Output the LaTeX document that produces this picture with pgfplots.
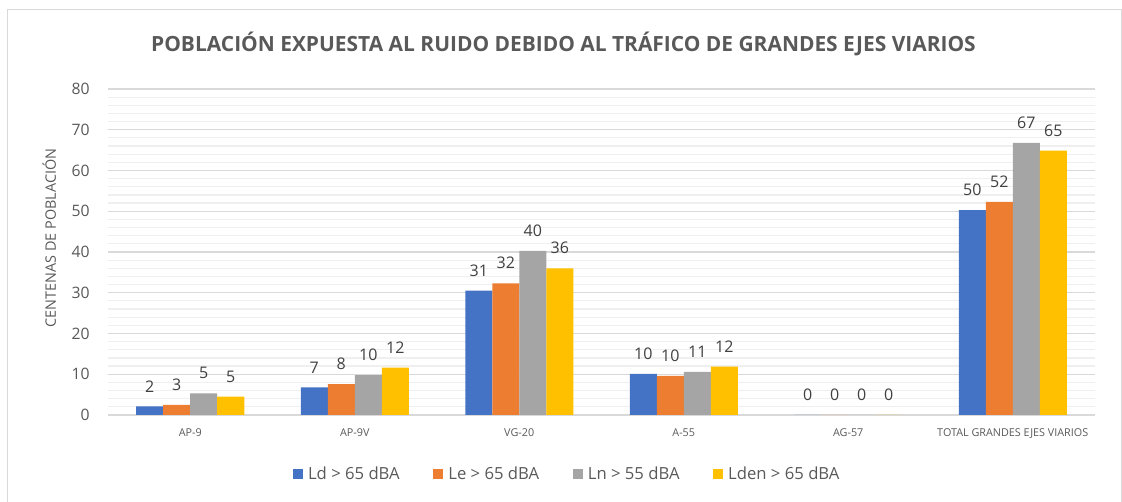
\documentclass[border=0pt]{standalone}
\usepackage{fontspec}
\setmainfont{Open Sans}
\usepackage{pgfplots}
\usepackage{pgfplotstable}
\pgfplotsset{compat=1.18}
\definecolor{cBlue}{HTML}{4472C4}
\definecolor{cOrange}{HTML}{ED7D31}
\definecolor{cGray}{HTML}{A5A5A5}
\definecolor{cYellow}{HTML}{FFC000}
\definecolor{txt}{HTML}{595959}
\definecolor{lbl}{HTML}{404040}
\definecolor{gridmaj}{HTML}{D9D9D9}
\definecolor{gridmin}{HTML}{EFEFEF}

\pgfplotstableread{
x y lab
0 2.1 2
1 6.8 7
2 30.5 31
3 10.1 10
4 0 0
5 50.3 50
}\tLd
\pgfplotstableread{
x y lab
0 2.5 3
1 7.6 8
2 32.3 32
3 9.6 10
4 0 0
5 52.3 52
}\tLe
\pgfplotstableread{
x y lab
0 5.3 5
1 9.8 10
2 40.3 40
3 10.6 11
4 0 0
5 66.8 67
}\tLn
\pgfplotstableread{
x y lab
0 4.5 5
1 11.6 12
2 36.0 36
3 11.9 12
4 0 0
5 64.9 65
}\tLden

\begin{document}
\begin{tikzpicture}
\begin{axis}[
  at={(0pt,0pt)}, anchor=south west,
  scale only axis, width=740.25pt, height=244.5pt,
  xmin=-0.5, xmax=5.5, ymin=0, ymax=80,
  ybar=0pt, bar width=20.25pt,
  xtick={0,...,5},
  xticklabels={AP-9,AP-9V,VG-20,A-55,AG-57,TOTAL GRANDES EJES VIARIOS},
  ytick={0,10,...,80}, minor y tick num=4,
  ymajorgrids, yminorgrids,
  major grid style={draw=gridmaj, line width=0.9pt},
  minor grid style={draw=gridmin, line width=0.9pt},
  axis x line*=bottom, axis y line*=left,
  y axis line style={draw=none},
  x axis line style={draw=gridmaj, line width=1.5pt, -},
  major tick length=0pt, minor tick length=0pt,
  /pgf/number format/assume math mode=true,
  yticklabel style={font=\fontsize{11.8}{13}\selectfont, text=txt, anchor=east, inner sep=0pt, xshift=-13.5pt},
  xticklabel style={font=\fontsize{8.1}{9}\selectfont, text=txt, anchor=north, inner sep=0pt, yshift=-9.75pt},
  nodes near coords, point meta=explicit symbolic,
  every node near coord/.append style={font=\fontsize{12}{14}\selectfont, text=lbl, anchor=south, inner sep=0pt, yshift=10.5pt},
  legend columns=4,
  legend style={at={(axis description cs:0.4655,-0.181)}, anchor=center, draw=none, fill=none,
    font=\fontsize{12.5}{14}\selectfont, text=txt,
    /tikz/every even column/.append style={column sep=23pt}},
  legend image code/.code={\fill[#1] (0pt,-3.75pt) rectangle (7.5pt,3.75pt); \path (9.5pt,0pt);},
]
\addplot[fill=cBlue, draw=none] table[x=x, y=y, meta=lab] {\tLd};
\addplot[fill=cOrange, draw=none] table[x=x, y=y, meta=lab] {\tLe};
\addplot[fill=cGray, draw=none] table[x=x, y=y, meta=lab] {\tLn};
\addplot[fill=cYellow, draw=none] table[x=x, y=y, meta=lab] {\tLden};
\legend{Ld > 65 dBA, Le > 65 dBA, Ln > 55 dBA, Lden > 65 dBA}
\end{axis}
\node[anchor=base, font=\fontsize{15.7}{17}\selectfont\bfseries, text=txt] at (341.6pt,272.25pt) {POBLACIÓN EXPUESTA AL RUIDO DEBIDO AL TRÁFICO DE GRANDES EJES VIARIOS};
\node[rotate=90, anchor=base, font=\fontsize{10.8}{12}\selectfont, text=txt] at (-39pt,132.75pt) {CENTENAS DE POBLACIÓN};
\draw[gridmaj, line width=0.75pt] (-75pt,-80pt) rectangle (759.75pt,303.75pt);
\pgfresetboundingbox
\useasboundingbox (-81pt,-65.25pt) rectangle (760.5pt,311.25pt);
\end{tikzpicture}
\end{document}
